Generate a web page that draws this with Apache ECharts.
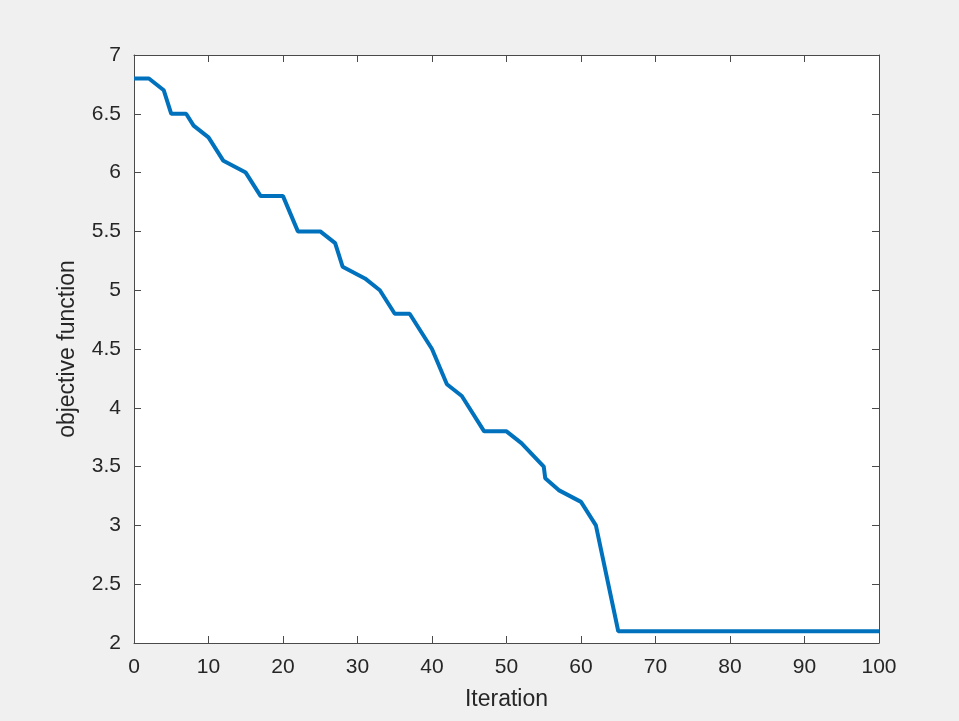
<!DOCTYPE html>
<html style="height: 100%">
<head>
  <meta charset="utf-8">
  <script src="https://cdn.jsdelivr.net/npm/echarts@6/dist/echarts.min.js"></script>
  <style>
    body { height: 100%; margin: 0; background: #f0f0f0; }
    #chart { width: 959px; height: 721px; }
  </style>
</head>
<body>
  <div id="chart"></div>
  <script>
    // iteration -> objective value
    var iterations = [0, 2, 4, 5, 7, 8, 10, 12, 15, 17, 20, 22, 25, 27, 28, 31, 33, 35, 37, 40, 42, 44, 47, 50, 52, 55, 55.2, 57, 60, 62, 65, 100];
    var objective  = [6.8, 6.8, 6.7, 6.5, 6.5, 6.4, 6.3, 6.1, 6.0, 5.8, 5.8, 5.5, 5.5, 5.4, 5.2, 5.1, 5.0, 4.8, 4.8, 4.5, 4.2, 4.1, 3.8, 3.8, 3.7, 3.5, 3.4, 3.3, 3.2, 3.0, 2.1, 2.1];
    var xName = 'Iteration';
    var yName = 'objective function';

    var points = iterations.map(function (x, i) { return [x, objective[i]]; });
    var axisColor = '#4a4a4a';
    var tickFont = { color: '#262626', fontSize: 21, fontFamily: 'Liberation Sans, Arial, sans-serif' };
    var nameFont = { color: '#262626', fontSize: 23, fontFamily: 'Liberation Sans, Arial, sans-serif' };

    var chart = echarts.init(document.getElementById('chart'));
    chart.setOption({
      backgroundColor: '#f0f0f0',
      animation: false,
      grid: { left: 134, right: 80, top: 55, bottom: 78, show: true, backgroundColor: '#fff', borderWidth: 0 },
      xAxis: [{
        type: 'value', min: 0, max: 100, interval: 10,
        name: xName, nameLocation: 'middle', nameGap: 45,
        nameTextStyle: nameFont,
        axisLine: { onZero: false, lineStyle: { color: axisColor } },
        axisTick: { inside: true, length: 7, lineStyle: { color: axisColor } },
        axisLabel: Object.assign({ margin: 14 }, tickFont),
        splitLine: { show: false }
      }, {
        type: 'value', position: 'top', min: 0, max: 100, interval: 10,
        axisLine: { show: true, onZero: false, lineStyle: { color: axisColor } },
        axisTick: { show: true, inside: true, length: 7, lineStyle: { color: axisColor } },
        axisLabel: { show: false }, splitLine: { show: false }
      }],
      yAxis: [{
        type: 'value', min: 2, max: 7, interval: 0.5,
        name: yName, nameLocation: 'middle', nameGap: 55,
        nameTextStyle: nameFont,
        axisLine: { show: true, onZero: false, lineStyle: { color: axisColor } },
        axisTick: { show: true, inside: true, length: 7, lineStyle: { color: axisColor } },
        axisLabel: Object.assign({ margin: 13 }, tickFont),
        splitLine: { show: false }
      }, {
        type: 'value', position: 'right', min: 2, max: 7, interval: 0.5,
        axisLine: { show: true, onZero: false, lineStyle: { color: axisColor } },
        axisTick: { show: true, inside: true, length: 7, lineStyle: { color: axisColor } },
        axisLabel: { show: false }, splitLine: { show: false }
      }],
      series: [{
        type: 'line', data: points, showSymbol: false,
        lineStyle: { color: '#0072BD', width: 4 }
      }]
    });
  </script>
</body>
</html>
